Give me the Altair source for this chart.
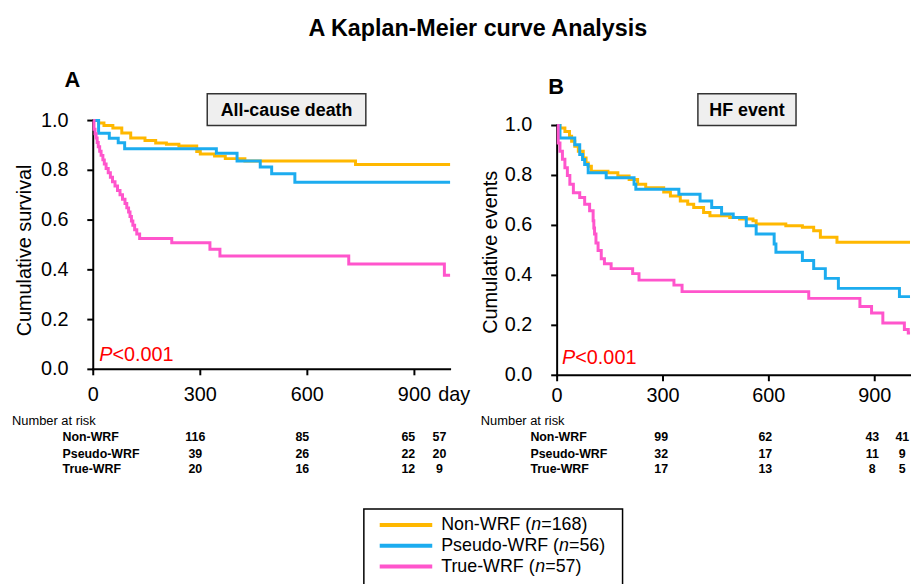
import altair as alt
import pandas as pd

FONT = "Liberation Sans"
GROUPS = ["Non-WRF", "Pseudo-WRF", "True-WRF"]
COLORS = ["#FFB800", "#1CACEF", "#FF55CC"]
GROUP_N = [168, 56, 57]

# ---------------- Panel A: all-cause death (step points) ----------------
a_non_days = [0, 15, 30, 55, 80, 105, 145, 175, 205, 240, 290, 300, 340, 370, 425, 735, 1000]
a_non_surv = [1.0, 0.99, 0.98, 0.97, 0.95, 0.93, 0.92, 0.91, 0.905, 0.898, 0.876, 0.866, 0.857, 0.847, 0.837, 0.823, 0.823]

a_pseudo_days = [0, 15, 45, 70, 88, 345, 403, 468, 500, 565, 1000]
a_pseudo_surv = [1.0, 0.949, 0.929, 0.911, 0.887, 0.869, 0.837, 0.813, 0.786, 0.752, 0.752]

a_true_days = [0, 2, 5, 8, 11, 14, 18, 22, 27, 31, 36, 42, 48, 54, 61, 68, 75, 82, 89, 94,
               99, 103, 107, 111, 116, 122, 130, 220, 327, 355, 716, 984, 1000]
a_true_surv = [1.0, 0.965, 0.947, 0.93, 0.912, 0.895, 0.877, 0.86, 0.842, 0.825, 0.807, 0.79,
               0.772, 0.754, 0.737, 0.719, 0.702, 0.684, 0.667, 0.649, 0.632, 0.614, 0.596,
               0.579, 0.561, 0.544, 0.526, 0.509, 0.483, 0.456, 0.423, 0.378, 0.378]

# ---------------- Panel B: HF event (step points) ----------------
b_non_days = [0, 8, 22, 35, 41, 50, 60, 74, 82, 88, 97, 144, 172, 204, 228, 251, 302, 321, 349,
              370, 387, 415, 433, 489, 517, 555, 564, 648, 695, 727, 746, 793, 1000]
b_non_surv = [1.0, 0.99, 0.976, 0.957, 0.937, 0.917, 0.897, 0.870, 0.85, 0.837, 0.817, 0.811,
              0.798, 0.784, 0.765, 0.751, 0.734, 0.718, 0.698, 0.685, 0.672, 0.652, 0.639,
              0.632, 0.626, 0.619, 0.606, 0.599, 0.593, 0.579, 0.553, 0.533, 0.533]

b_pseudo_days = [0, 8, 50, 64, 72, 78, 88, 139, 218, 223, 345, 405, 438, 466, 499, 536, 564,
                 615, 620, 695, 727, 760, 797, 970, 1000]
b_pseudo_surv = [1.0, 0.95, 0.923, 0.884, 0.864, 0.844, 0.811, 0.791, 0.765, 0.745, 0.725,
                 0.698, 0.672, 0.646, 0.632, 0.599, 0.566, 0.526, 0.493, 0.46, 0.427, 0.388,
                 0.348, 0.315, 0.315]

b_true_days = [0, 3, 8, 15, 22, 29, 36, 46, 64, 78, 92, 102, 104, 106, 110, 116, 125, 134, 153,
               214, 232, 331, 354, 713, 858, 891, 923, 984, 995, 1000]
b_true_surv = [1.0, 0.93, 0.897, 0.865, 0.831, 0.8, 0.765, 0.731, 0.712, 0.685, 0.659, 0.619,
               0.59, 0.566, 0.53, 0.5, 0.467, 0.447, 0.427, 0.407, 0.381, 0.361, 0.335, 0.308,
               0.275, 0.249, 0.209, 0.183, 0.169, 0.169]

# ---------------- Number at risk ----------------
risk_days_a = [286, 586, 883, 970]
risk_a = {"Non-WRF": [116, 85, 65, 57], "Pseudo-WRF": [39, 26, 22, 20], "True-WRF": [20, 16, 12, 9]}
risk_days_b = [295, 590, 893, 978]
risk_b = {"Non-WRF": [99, 62, 43, 41], "Pseudo-WRF": [32, 17, 11, 9], "True-WRF": [17, 13, 8, 5]}

X_DOMAIN = [0, 1000]
Y_DOMAIN = [0, 1]
X_TICKS = [0, 300, 600, 900]
Y_TICKS = [0.0, 0.2, 0.4, 0.6, 0.8, 1.0]

color_scale = alt.Scale(domain=GROUPS, range=COLORS)


def km_frame(series):
    rows = []
    for g, days, vals in series:
        for d, v in zip(days, vals):
            rows.append({"group": g, "day": d, "value": v})
    return pd.DataFrame(rows)


def blank():
    return alt.Chart(alt.Data(values=[{}]))


def label(text, x, y, size, weight="normal", style="normal", align="left",
          baseline="alphabetic", color="black", angle=0):
    return blank().mark_text(text=text, font=FONT, fontSize=size, fontWeight=weight,
                             fontStyle=style, align=align, baseline=baseline,
                             color=color, angle=angle).encode(x=alt.value(x), y=alt.value(y))


def panel(series, xrange, yrange, ytitle, ytitle_xy, risk_days, risk, row_ys,
          nar_x, row_label_x, xlab_y):
    xs = alt.Scale(domain=X_DOMAIN, range=xrange, nice=False, zero=False)
    ys = alt.Scale(domain=Y_DOMAIN, range=yrange, nice=False)
    x0, y0 = xrange[0], yrange[0]
    layers = []
    # axis lines
    layers.append(alt.Chart(pd.DataFrame({"a": [X_DOMAIN[0]], "b": [X_DOMAIN[1]]}))
                  .mark_rule(color="black", strokeWidth=2, strokeCap="square")
                  .encode(x=alt.X("a:Q", scale=xs, axis=None), x2="b:Q", y=alt.value(y0)))
    layers.append(alt.Chart(pd.DataFrame({"a": [Y_DOMAIN[0]], "b": [Y_DOMAIN[1]]}))
                  .mark_rule(color="black", strokeWidth=2, strokeCap="square")
                  .encode(y=alt.Y("a:Q", scale=ys, axis=None), y2="b:Q", x=alt.value(x0)))
    xt = pd.DataFrame({"t": X_TICKS})
    layers.append(alt.Chart(xt).mark_rule(color="black", strokeWidth=2)
                  .encode(x=alt.X("t:Q", scale=xs, axis=None), y=alt.value(y0),
                          y2=alt.value(y0 + 6)))
    layers.append(alt.Chart(xt).mark_text(font=FONT, fontSize=20, align="center",
                                          baseline="alphabetic", color="black")
                  .encode(x=alt.X("t:Q", scale=xs, axis=None), y=alt.value(xlab_y),
                          text="t:Q"))
    yt = pd.DataFrame({"v": Y_TICKS})
    layers.append(alt.Chart(yt).mark_rule(color="black", strokeWidth=2)
                  .encode(y=alt.Y("v:Q", scale=ys, axis=None), x=alt.value(x0 - 6),
                          x2=alt.value(x0)))
    layers.append(alt.Chart(yt).mark_text(font=FONT, fontSize=20, align="right",
                                          baseline="middle", color="black")
                  .encode(y=alt.Y("v:Q", scale=ys, axis=None), x=alt.value(x0 - 25),
                          text=alt.Text("v:Q", format=".1f")))
    layers.append(label(ytitle, ytitle_xy[0], ytitle_xy[1], 20, align="center",
                        baseline="middle", angle=270))
    # survival curves
    df = km_frame(series)
    layers.append(alt.Chart(df).mark_line(interpolate="step-after", strokeWidth=3).encode(
        x=alt.X("day:Q", scale=xs, axis=None),
        y=alt.Y("value:Q", scale=ys, axis=None),
        color=alt.Color("group:N", scale=color_scale, legend=None),
    ))
    # number at risk table
    layers.append(label("Number at risk", nar_x, row_ys[0], 13, baseline="middle"))
    for g, ry in zip(GROUPS, row_ys[1:]):
        layers.append(label(g, row_label_x, ry, 12.5, weight="bold", baseline="middle"))
        rdf = pd.DataFrame({"day": risk_days, "n": risk[g]})
        layers.append(
            alt.Chart(rdf).mark_text(font=FONT, fontSize=12.5, fontWeight="bold",
                                     baseline="middle", align="center", color="black")
            .encode(x=alt.X("day:Q", scale=xs, axis=None), text="n:Q", y=alt.value(ry))
        )
    return alt.layer(*layers)


row_ys = [414, 430, 447, 463]

panelA = panel(
    [("Non-WRF", a_non_days, a_non_surv), ("Pseudo-WRF", a_pseudo_days, a_pseudo_surv),
     ("True-WRF", a_true_days, a_true_surv)],
    [86, 446], [362, 111], "Cumulative survival", (17, 242),
    risk_days_a, risk_a, row_ys, 4, 55, 394,
)
panelB = panel(
    [("Non-WRF", b_non_days, b_non_surv), ("Pseudo-WRF", b_pseudo_days, b_pseudo_surv),
     ("True-WRF", b_true_days, b_true_surv)],
    [554, 910], [368, 116], "Cumulative events", (487, 244),
    risk_days_b, risk_b, row_ys, 477, 527, 395,
)

ann = []
ann.append(label("A Kaplan-Meier curve Analysis", 474, 26, 23.5, weight="bold", align="center"))
ann.append(label("A", 57, 77, 22, weight="bold"))
ann.append(label("B", 545, 84, 22, weight="bold"))
# titled boxes
for x1, x2, txt in [(201, 361, "All-cause death"), (696, 795, "HF event")]:
    ann.append(blank().mark_rect(fill="#efefef", stroke="#333333", strokeWidth=1.5).encode(
        x=alt.value(x1), x2=alt.value(x2), y=alt.value(84), y2=alt.value(116)))
    ann.append(label(txt, (x1 + x2) / 2, 101, 18, weight="bold", align="center",
                     baseline="middle"))
# p-values
for px, py in [(92, 354), (559, 357)]:
    ann.append(label("P", px, py, 20, style="italic", color="#ff0000"))
    ann.append(label("<0.001", px + 13.3, py, 20, color="#ff0000"))
ann.append(label("day", 434, 394, 20))

# legend
ann.append(blank().mark_rect(fill="white", stroke="black", strokeWidth=1.5).encode(
    x=alt.value(359), x2=alt.value(620), y=alt.value(503), y2=alt.value(600)))
prefix_w = {"Non-WRF": 91.0, "Pseudo-WRF": 119.0, "True-WRF": 95.0}
for g, c, n, ly in zip(GROUPS, COLORS, GROUP_N, [519, 540, 561]):
    ann.append(blank().mark_rule(strokeWidth=4, color=c).encode(
        x=alt.value(375), x2=alt.value(428), y=alt.value(ly)))
    ann.append(label(g + " (", 437, ly, 18, baseline="middle"))
    ann.append(label("n", 437 + prefix_w[g], ly, 18, style="italic", baseline="middle"))
    ann.append(label("=%d)" % n, 437 + prefix_w[g] + 10, ly, 18, baseline="middle"))

chart = alt.layer(panelA, panelB, *ann).resolve_scale(
    x="independent", y="independent"
).properties(
    width=912, height=576, padding=0, autosize=alt.AutoSizeParams(type="none"),
    background="white",
).configure_view(stroke=None)

chart.save("out.html", embed_options={"renderer": "svg", "actions": False})
